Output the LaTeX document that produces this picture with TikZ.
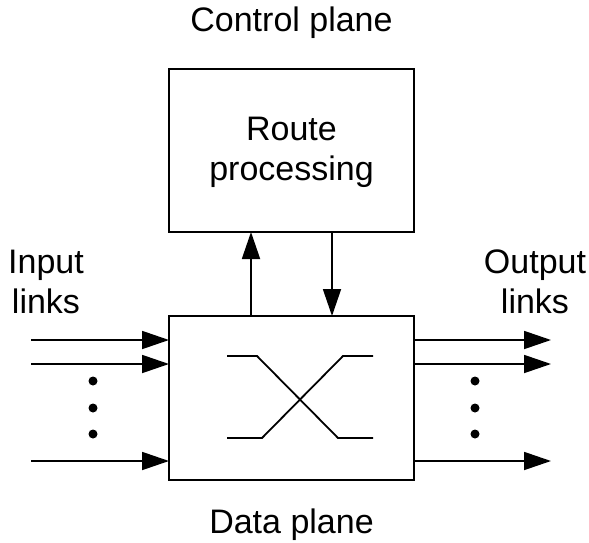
\documentclass[tikz,border=0pt]{standalone}
\usepackage{fontspec}
\setmainfont{Liberation Sans}
\usetikzlibrary{arrows.meta}
\begin{document}
\begin{tikzpicture}[x=1pt,y=-1pt,
  line width=1.8pt,
  lbl/.style={font=\fontsize{34}{40}\selectfont, inner sep=0pt, align=center},
  planebox/.style={draw, rectangle, outer sep=0pt, inner sep=0pt, minimum width=245pt},
  link/.style={-{Triangle[length=27pt,width=18pt]}},
  dot/.style={fill=black, draw=none}
]
\useasboundingbox (0,0) rectangle (589,543);

% the two planes
\node[planebox, minimum height=163pt] (ctrl) at (291.5,150.5) {};
\node[planebox, minimum height=164pt] (data) at (291.5,398) {};

% labels (multi-line labels are anchored at the baseline of their last line)
\node[lbl, anchor=base] (ctrltitle) at (291.5,32) {Control plane};
\node[lbl, anchor=base] (datatitle) at (291.5,533) {Data plane};
\node[lbl, anchor=base] (route) at (291.5,180) {Route\\processing};
\node[lbl, anchor=base] (inlbl) at (46,313) {Input\\links};
\node[lbl, anchor=base] (outlbl) at (535,313) {Output\\links};

% exchange between the planes
\coordinate (upx) at (251,0);
\coordinate (downx) at (332,0);
\draw[link] (data.north -| upx) -- (ctrl.south -| upx);
\draw[link] (ctrl.south -| downx) -- (data.north -| downx);

% input and output links
\foreach \y [count=\i] in {340,364,461} {
  \coordinate (in\i) at (31,\y);
  \coordinate (out\i) at (551,\y);
  \draw[link] (in\i) -- (data.west |- in\i);
  \draw[link] (data.east |- out\i) -- (out\i);
}

% ellipsis dots
\foreach \y in {381,408,434} {
  \fill[dot] (93,\y) circle (4.5pt);
  \fill[dot] (475,\y) circle (4.5pt);
}

% crossbar symbol
\draw (227,356) -- (257,356) -- (338,438) -- (373,438);
\draw (227,438) -- (262,438) -- (343,356) -- (373,356);
\end{tikzpicture}
\end{document}
